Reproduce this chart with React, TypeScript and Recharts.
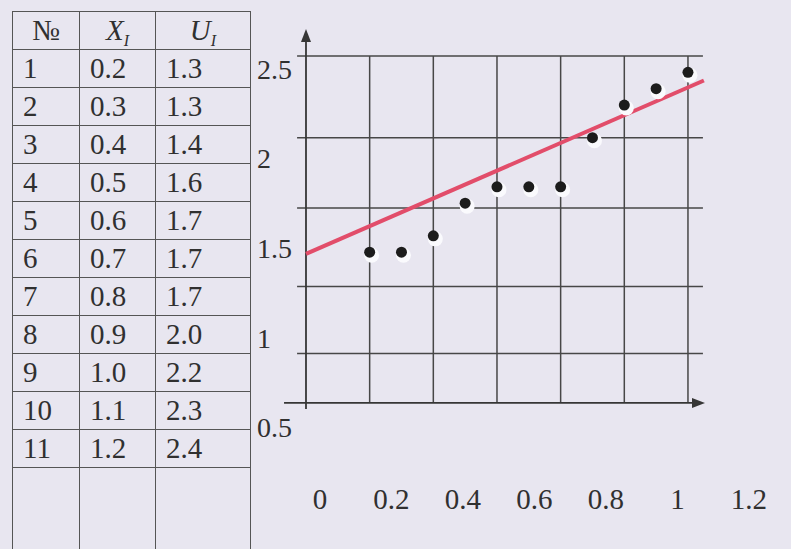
import { ScatterChart, Scatter, XAxis, YAxis, ReferenceLine } from "recharts";

// table / measurements
const rowNumbers = [1, 2, 3, 4, 5, 6, 7, 8, 9, 10, 11];
const xValues = [0.2, 0.3, 0.4, 0.5, 0.6, 0.7, 0.8, 0.9, 1.0, 1.1, 1.2];
const uValues = [1.3, 1.3, 1.4, 1.6, 1.7, 1.7, 1.7, 2.0, 2.2, 2.3, 2.4];

// axis labels as printed
const xTickLabels = [0, 0.2, 0.4, 0.6, 0.8, 1, 1.2];
const yTickLabels = [0.5, 1, 1.5, 2, 2.5];

// grid lines
const xGridValues = [0.2, 0.4, 0.6, 0.8, 1.0, 1.2];
const yGridValues = [2.5, 2.0, 1.57, 1.09, 0.68];

// the drawn trend line (ends)
const fitLine = [
  { x: 0, u: 1.29 },
  { x: 1.25, u: 2.35 },
];

const points = xValues.map((x, i) => ({ x, u: uValues[i] }));

const INK = "#363636";
const TEXT = "#303030";
const FONT = '"Liberation Serif", "Times New Roman", serif';

// extents of axis / grid lines, in data units
const AXIS_U = 0.378;
const X_AXIS_FROM = -0.069;
const X_AXIS_TO = 1.2535;
const Y_AXIS_FROM = 0.341;
const Y_AXIS_TO = 2.665;
const GRID_X_FROM = -0.028;
const GRID_X_TO = 1.247;

function Arrow(props: any) {
  const { x1, y1, x2, y2 } = props;
  const ang = Math.atan2(y2 - y1, x2 - x1);
  const len = 13;
  const half = 5;
  const bx = x2 - len * Math.cos(ang);
  const by = y2 - len * Math.sin(ang);
  const px = -Math.sin(ang) * half;
  const py = Math.cos(ang) * half;
  return (
    <g>
      <line x1={x1} y1={y1} x2={bx} y2={by} stroke={INK} strokeWidth={1.8} />
      <polygon
        points={`${x2},${y2} ${bx + px},${by + py} ${bx - px},${by - py}`}
        fill={INK}
      />
    </g>
  );
}

function Dot(props: any) {
  const { cx, cy } = props;
  return (
    <g>
      <circle cx={cx + 2} cy={cy + 3} r={7.5} fill="#fafafd" />
      <circle cx={cx} cy={cy} r={5.5} fill="#1c1c1c" />
    </g>
  );
}

function YLabelTick(props: any) {
  const { x, y, payload } = props;
  return (
    <text x={x - 27} y={y} dy={9} textAnchor="start" fontSize={28} fontFamily={FONT} fill={TEXT}>
      {payload.value}
    </text>
  );
}

function XLabelTick(props: any) {
  const { x, y, payload } = props;
  return (
    <text x={x} y={y} dy={69} textAnchor="middle" fontSize={29} fontFamily={FONT} fill={TEXT}>
      {payload.value}
    </text>
  );
}

const cell = {
  border: "1.5px solid #555",
  padding: "0 0 0 10px",
  height: 37,
  textAlign: "left" as const,
  verticalAlign: "middle" as const,
  lineHeight: "37px",
  overflow: "hidden",
};

const head = { ...cell, textAlign: "center" as const, padding: 0, fontWeight: "normal" as const };

const sub = { fontSize: 16, position: "relative" as const, top: 6, lineHeight: 0 };

function DataTable() {
  return (
    <table
      style={{
        position: "absolute",
        left: 12,
        top: 11,
        borderCollapse: "collapse",
        tableLayout: "fixed",
        width: 238,
        fontFamily: FONT,
        fontSize: 29,
        color: TEXT,
      }}
    >
      <colgroup>
        <col style={{ width: 67 }} />
        <col style={{ width: 76 }} />
        <col style={{ width: 95 }} />
      </colgroup>
      <thead>
        <tr style={{ height: 38 }}>
          <th style={head}>№</th>
          <th style={{ ...head, fontStyle: "italic" }}>
            X<span style={sub}>I</span>
          </th>
          <th style={{ ...head, fontStyle: "italic" }}>
            U<span style={sub}>I</span>
          </th>
        </tr>
      </thead>
      <tbody>
        {rowNumbers.map((n, i) => (
          <tr key={n} style={{ height: 38 }}>
            <td style={cell}>{n}</td>
            <td style={cell}>{xValues[i].toFixed(1)}</td>
            <td style={cell}>{uValues[i].toFixed(1)}</td>
          </tr>
        ))}
        <tr>
          <td style={{ ...cell, height: 110, borderBottom: "none" }} />
          <td style={{ ...cell, height: 110, borderBottom: "none" }} />
          <td style={{ ...cell, height: 110, borderBottom: "none" }} />
        </tr>
      </tbody>
    </table>
  );
}

export default function App() {
  return (
    <div
      style={{
        position: "absolute",
        left: 0,
        top: 0,
        width: 791,
        height: 549,
        overflow: "hidden",
        background: "#e8e6f0",
      }}
    >
      <DataTable />
      <div style={{ position: "absolute", left: 0, top: 0 }}>
        <ScatterChart width={791} height={549} margin={{ top: 28, right: 31, bottom: 0, left: 0 }}>
          <XAxis xAxisId="m" type="number" dataKey="x" domain={[-0.0691, 1.4263]} allowDataOverflow hide />
          <YAxis yAxisId="m" type="number" dataKey="u" domain={[0.1514, 2.671]} allowDataOverflow hide />
          <XAxis
            xAxisId="lab"
            type="number"
            dataKey="x"
            domain={[-0.1007, 1.2308]}
            allowDataOverflow
            ticks={xTickLabels}
            interval={0}
            height={109}
            axisLine={false}
            tickLine={false}
            tickSize={0}
            tickMargin={0}
            tick={<XLabelTick />}
          />
          <YAxis
            yAxisId="lab"
            type="number"
            dataKey="u"
            domain={[0.433, 2.7346]}
            allowDataOverflow
            ticks={yTickLabels}
            interval={0}
            width={284}
            axisLine={false}
            tickLine={false}
            tickSize={0}
            tickMargin={0}
            tick={<YLabelTick />}
          />

          {yGridValues.map((v) => (
            <ReferenceLine
              key={`h${v}`}
              xAxisId="m"
              yAxisId="m"
              segment={[
                { x: GRID_X_FROM, y: v },
                { x: GRID_X_TO, y: v },
              ]}
              stroke="#474747"
              strokeWidth={1.5}
            />
          ))}
          {xGridValues.map((v) => (
            <ReferenceLine
              key={`v${v}`}
              xAxisId="m"
              yAxisId="m"
              segment={[
                { x: v, y: AXIS_U },
                { x: v, y: yGridValues[0] },
              ]}
              stroke="#474747"
              strokeWidth={1.5}
            />
          ))}

          <ReferenceLine
            xAxisId="m"
            yAxisId="m"
            segment={[
              { x: X_AXIS_FROM, y: AXIS_U },
              { x: X_AXIS_TO, y: AXIS_U },
            ]}
            shape={<Arrow />}
          />
          <ReferenceLine
            xAxisId="m"
            yAxisId="m"
            segment={[
              { x: 0, y: Y_AXIS_FROM },
              { x: 0, y: Y_AXIS_TO },
            ]}
            shape={<Arrow />}
          />

          <Scatter
            xAxisId="m"
            yAxisId="m"
            data={points}
            shape={<Dot />}
            isAnimationActive={false}
          />

          <ReferenceLine
            xAxisId="m"
            yAxisId="m"
            segment={[
              { x: fitLine[0].x, y: fitLine[0].u },
              { x: fitLine[1].x, y: fitLine[1].u },
            ]}
            stroke="#e24d6a"
            strokeWidth={4}
          />
        </ScatterChart>
      </div>
    </div>
  );
}
